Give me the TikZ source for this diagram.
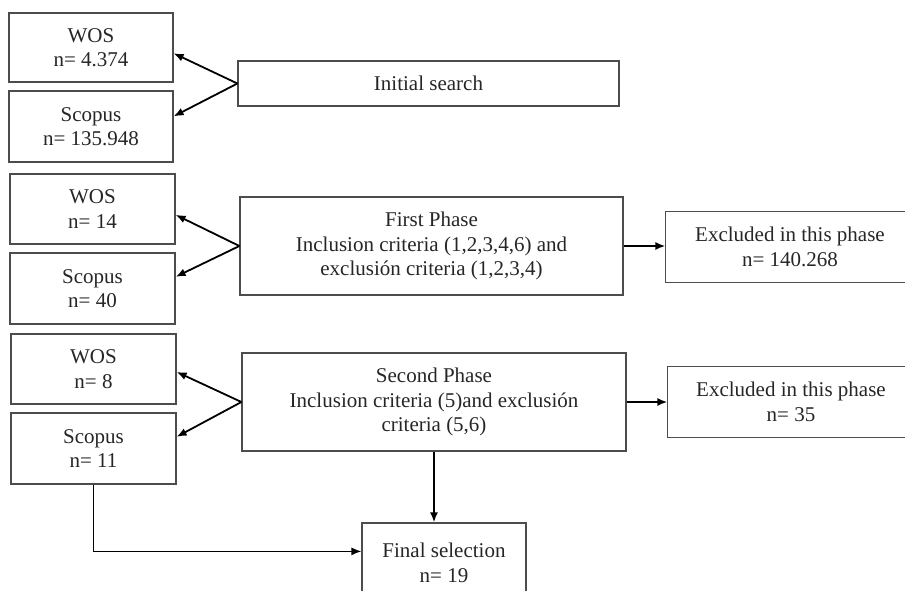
\documentclass[tikz,border=0pt]{standalone}
\usepackage{fontspec}
\setmainfont{Liberation Serif}
\usepackage{tikz}
\usetikzlibrary{arrows.meta}

\begin{document}
\begin{tikzpicture}[x=1pt,y=-1pt,
		boxline/.style={draw=black!70, line width=1.2pt},
		box/.style={boxline, fill=white, align=center, inner sep=0pt, text=black!85, font=\fontsize{21}{24.5}\selectfont},
		arr/.style={-{Latex[length=10pt,width=8pt]}, line width=1.8pt, black}]
		\useasboundingbox (0,0) rectangle (905,590);
		\clip (0,0) rectangle (905,590);
		\node[box, minimum width=164, minimum height=69] (wosA) at (91,47.5) {WOS\\n= 4.374};
		\node[box, minimum width=164, minimum height=71] (scoA) at (91,126.5) {Scopus\\n= 135.948};
		\node[box, minimum width=381, minimum height=45] (init) at (428.5,83.5) {Initial search};
		\node[box, minimum width=165, minimum height=70] (wosB) at (92.5,209) {WOS\\n= 14};
		\node[box, minimum width=165, minimum height=71] (scoB) at (92.5,288.5) {Scopus\\n= 40};
		\node[box, minimum width=383, minimum height=98] (first) at (431.5,246) {First Phase\\Inclusion criteria (1,2,3,4,6) and\\exclusión criteria (1,2,3,4)};
		\node[box, draw=none, fill=none, minimum width=248, minimum height=70] (exclA) at (790,247) {Excluded in this phase\\n= 140.268};
		\draw[boxline] (exclA.north west) rectangle ([xshift=40pt]exclA.south east);
		\node[box, minimum width=165, minimum height=70] (wosC) at (93.5,369) {WOS\\n= 8};
		\node[box, minimum width=165, minimum height=71] (scoC) at (93.5,448.5) {Scopus\\n= 11};
		\node[box, minimum width=384, minimum height=98] (second) at (434,402) {Second Phase\\Inclusion criteria (5)and exclusión\\criteria (5,6)};
		\node[box, draw=none, fill=none, minimum width=246, minimum height=70] (exclB) at (791,402) {Excluded in this phase\\n= 35};
		\draw[boxline] (exclB.north west) rectangle ([xshift=40pt]exclB.south east);
		\node[box, minimum width=164, minimum height=80] (final) at (444,563) {Final selection\\n= 19};
		\draw[arr] (init.west) -- (wosA.-4);
		\draw[arr] (init.west) -- (scoA.7);
		\draw[arr] (first.west) -- (wosB.-4);
		\draw[arr] (first.west) -- (scoB.8);
		\draw[arr] (first.east) -- (exclA.west |- first.east);
		\draw[arr] (second.west) -- (wosC.-2);
		\draw[arr] (second.west) -- (scoC.8);
		\draw[arr] (second.east) -- (exclB.west |- second.east);
		\draw[arr] (second.south) -- (second.south |- final.north);
		\draw[arr, line width=1.3pt] (scoC.south) |- (final.172);
\end{tikzpicture}
\end{document}
